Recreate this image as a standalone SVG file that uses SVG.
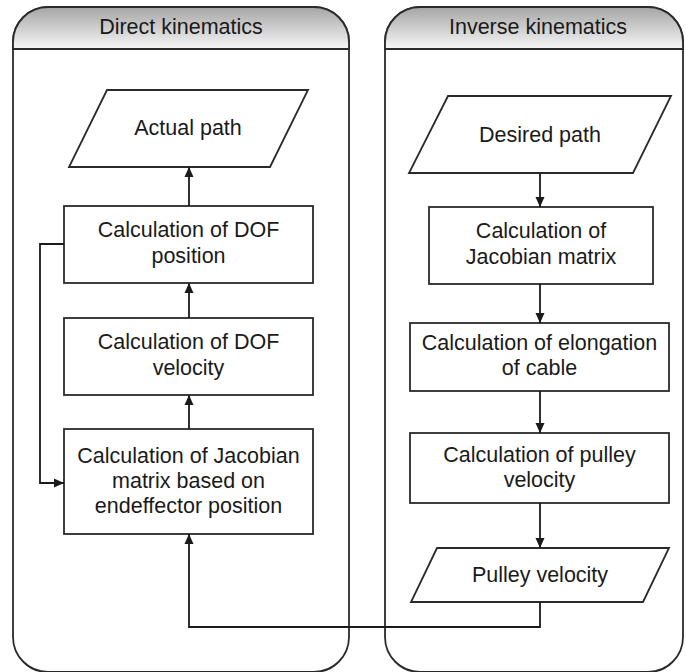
<svg xmlns="http://www.w3.org/2000/svg" width="686" height="672" viewBox="0 0 686 672">
<defs>
<linearGradient id="hdr" x1="0" y1="0" x2="0" y2="1">
<stop offset="0" stop-color="#a5a5a5"/>
<stop offset="1" stop-color="#f7f7f7"/>
</linearGradient>
<marker id="arr" viewBox="0 0 10 10" refX="10" refY="5" markerWidth="10" markerHeight="10" markerUnits="userSpaceOnUse" orient="auto">
<path d="M0,0.5 L10,5 L0,9.5 z" fill="#1a1a1a"/>
</marker>
</defs>
<style>
.lane{fill:#fff;stroke:#2a2a2a;stroke-width:1.8}
.head{fill:url(#hdr);stroke:#2a2a2a;stroke-width:1.8}
.box{fill:#fff;stroke:#2a2a2a;stroke-width:1.8}
.t{font-family:"Liberation Sans",Arial,sans-serif;font-size:21.5px;fill:#1a1a1a;text-anchor:middle}
.c{fill:none;stroke:#1a1a1a;stroke-width:1.8}
</style>
<rect width="686" height="672" fill="#fff"/>
<g id="lane-direct">
<path class="lane" d="M13,637 V42 A35,35 0 0 1 48,7 H314 A35,35 0 0 1 349,42 V637 A35,35 0 0 1 314,672 H48 A35,35 0 0 1 13,637 Z"/>
<path class="head" d="M13,49 V42 A35,35 0 0 1 48,7 H314 A35,35 0 0 1 349,42 V49 Z"/>
<text class="t" x="181" y="34">Direct kinematics</text>
</g>
<g id="lane-inverse">
<path class="lane" d="M385,637 V42 A35,35 0 0 1 420,7 H648 A35,35 0 0 1 683,42 V637 A35,35 0 0 1 648,672 H420 A35,35 0 0 1 385,637 Z"/>
<path class="head" d="M385,49 V42 A35,35 0 0 1 420,7 H648 A35,35 0 0 1 683,42 V49 Z"/>
<text class="t" x="538" y="34">Inverse kinematics</text>
</g>
<g id="actual-path">
<polygon class="box" points="107,90 308,90 270,167 69,167"/>
<text class="t" x="188" y="135">Actual path</text>
</g>
<g id="dof-position">
<rect class="box" x="64" y="206" width="249" height="77"/>
<text class="t" x="188.5" y="237">Calculation of DOF</text>
<text class="t" x="188.5" y="263">position</text>
</g>
<g id="dof-velocity">
<rect class="box" x="64" y="318" width="249" height="77"/>
<text class="t" x="188.5" y="349">Calculation of DOF</text>
<text class="t" x="188.5" y="375">velocity</text>
</g>
<g id="jacobian-endeffector">
<rect class="box" x="64" y="429" width="249" height="105"/>
<text class="t" x="188.5" y="463">Calculation of Jacobian</text>
<text class="t" x="188.5" y="488">matrix based on</text>
<text class="t" x="188.5" y="513">endeffector position</text>
</g>
<g id="desired-path">
<polygon class="box" points="448,96 671,96 633,173 409,173"/>
<text class="t" x="540" y="142">Desired path</text>
</g>
<g id="jacobian-matrix">
<rect class="box" x="429" y="207" width="224" height="77"/>
<text class="t" x="541" y="238">Calculation of</text>
<text class="t" x="541" y="264">Jacobian matrix</text>
</g>
<g id="elongation">
<rect class="box" x="410" y="323" width="259" height="68"/>
<text class="t" x="539.5" y="350">Calculation of elongation</text>
<text class="t" x="539.5" y="375">of cable</text>
</g>
<g id="pulley-calc">
<rect class="box" x="410" y="433" width="259" height="70"/>
<text class="t" x="539.5" y="462">Calculation of pulley</text>
<text class="t" x="539.5" y="487">velocity</text>
</g>
<g id="pulley-velocity">
<polygon class="box" points="437,548 669,548 643,602 411,602"/>
<text class="t" x="540" y="582">Pulley velocity</text>
</g>
<g id="connectors">
<path class="c" d="M189,206 V167" marker-end="url(#arr)"/>
<path class="c" d="M189,318 V283" marker-end="url(#arr)"/>
<path class="c" d="M189,429 V395" marker-end="url(#arr)"/>
<path class="c" d="M64,244 H40 V483 H64" marker-end="url(#arr)"/>
<path class="c" d="M540,173 V207" marker-end="url(#arr)"/>
<path class="c" d="M540,284 V323" marker-end="url(#arr)"/>
<path class="c" d="M540,391 V433" marker-end="url(#arr)"/>
<path class="c" d="M540,503 V548" marker-end="url(#arr)"/>
<path class="c" d="M540,602 V627 H189 V534" marker-end="url(#arr)"/>
</g>
</svg>
